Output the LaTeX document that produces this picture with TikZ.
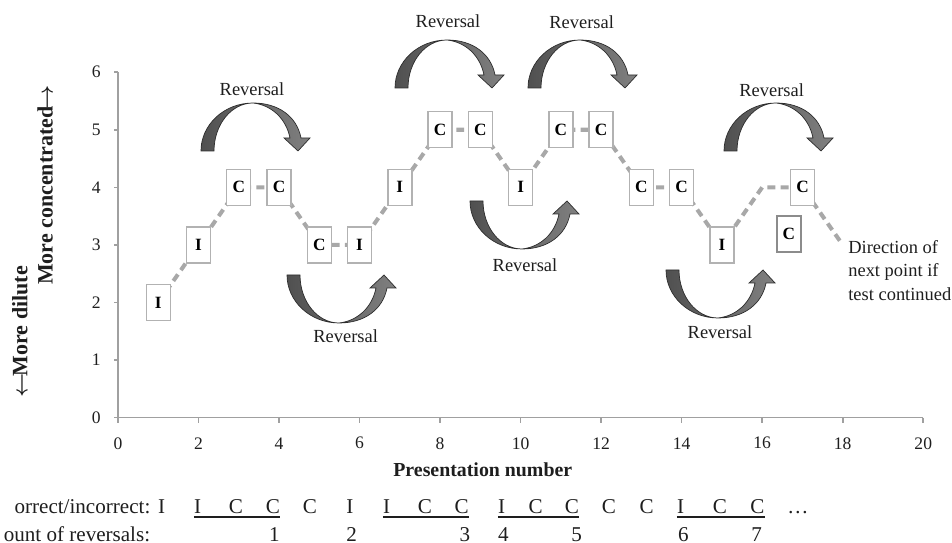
\documentclass[tikz,border=0pt]{standalone}
\usepackage{fontspec}
\setmainfont{Liberation Serif}
\usetikzlibrary{positioning,calc}
\definecolor{axisc}{RGB}{160,160,160}
\definecolor{linec}{RGB}{168,168,168}
\definecolor{boxc}{RGB}{178,178,178}
\definecolor{boxc2}{RGB}{140,140,140}
\definecolor{arrdark}{RGB}{80,80,80}
\definecolor{arrlight}{RGB}{128,128,128}
\definecolor{arredge}{RGB}{45,45,45}
\definecolor{txt}{RGB}{30,30,30}
\tikzset{
  pt/.style={draw=boxc,fill=white,line width=0.8pt,minimum width=0.48cm,minimum height=0.72cm,inner sep=0pt,font=\fontsize{9.8}{11}\selectfont\bfseries},
  trail/.style={linec,line width=2.3pt,dash pattern=on 4.5pt off 3pt},
  axl/.style={axisc,line width=0.9pt},
  tick/.style={font=\fontsize{10}{12}\selectfont,txt,inner sep=0pt},
  axlab/.style={font=\fontsize{11.3}{13}\selectfont\bfseries,txt},
  ylab/.style={font=\fontsize{12.5}{14}\selectfont\bfseries,txt,rotate=90,inner sep=0pt},
  rev/.style={font=\fontsize{10.5}{12}\selectfont,txt,inner sep=0pt},
  note/.style={font=\fontsize{10.5}{13.4}\selectfont,txt,align=left,inner sep=0pt},
  seq/.style={font=\fontsize{12}{14}\selectfont,txt,inner sep=0pt},
  turn/.style={draw=arredge,line width=0.4pt,left color=arrdark,right color=arrlight},
  revup/.pic={
    \path[turn] (-52,48) .. controls (-52,21.5) and (-28.7,0) .. (0,0)
      .. controls (26,0) and (44,14) .. (48,35) -- (57,35) -- (45,48) -- (31,35) -- (37,35)
      .. controls (33,15) and (18,2) .. (0,0)
      .. controls (-21.5,0) and (-39,21.5) .. (-39,48) -- cycle;
  },
}
\begin{document}
\begin{tikzpicture}[x=0.02cm,y=0.02cm]
  \useasboundingbox (0,0) rectangle (952,543);
  \begin{scope}[shift={(118,125.3)},x=0.8054cm,y=1.152cm]
    % axes
    \draw[axl] (0,6) -- (0,0) -- (20,0);
    \foreach \v in {0,...,6} {
      \draw[axl] (0,\v) -- ++(-0.09cm,0);
      \node[tick,anchor=east] (yt\v) at (-0.42,\v) {\v};
    }
    \foreach \x in {0,2,...,20} {
      \draw[axl] (\x,0) -- ++(0,-0.1cm);
      \node[tick] (xt\x) at (\x,-0.444) {\x};
    }
    \node[axlab] (xlab) at (9.06,-0.908) {Presentation number};
    % staircase of presentations
    \foreach \i/\v in {1/2,2/3,3/4,4/4,5/3,6/3,7/4,8/5,9/5,10/4,11/5,12/5,13/4,14/4,15/3,16/4,17/4,18/3}
      \coordinate (q\i) at (\i,\v);
    \draw[trail] (q1) \foreach \i in {2,...,18} {-- (q\i)};
    \foreach \i/\s in {1/I,2/I,3/C,4/C,5/C,6/I,7/I,8/C,9/C,10/I,11/C,12/C,13/C,14/C,15/I,17/C}
      \node[pt] (p\i) at (q\i) {\s};
    \node[pt,draw=boxc2,line width=1.1pt] (p16) at (16.66,3.19) {C};
    \node[note,anchor=north west,xshift=3pt,yshift=2.8pt] (next) at (q18) {Direction of\\next point if\\test continued};
  \end{scope}
  % y axis title
  \node[ylab] (ydil) at (20,211) {{\boldmath$\leftarrow$}\kern-1.5ptMore dilute};
  \node[ylab] (ycon) at (45,358) {More concentrated\kern-1.5pt{\boldmath$\rightarrow$}};
  % reversal arrows
  \pic[yscale=-1] at (253,440) {revup};
  \pic at (339,220) {revup};
  \pic[yscale=-1] at (447,503) {revup};
  \pic[yscale=-1] at (580,503) {revup};
  \pic at (522,294) {revup};
  \pic at (718,225) {revup};
  \pic[yscale=-1] at (776,440) {revup};
  \node[rev] (lab1) at (252,454) {Reversal};
  \node[rev] (lab2) at (345.7,206.5) {Reversal};
  \node[rev] (lab3) at (448,521.3) {Reversal};
  \node[rev] (lab4) at (581.7,520.3) {Reversal};
  \node[rev] (lab5) at (525,278) {Reversal};
  \node[rev] (lab6) at (720,211.3) {Reversal};
  \node[rev] (lab7) at (771.7,453) {Reversal};
  % sequence rows
  \node[seq,anchor=base east] (rowa) at (150.7,29.3) {orrect/incorrect:};
  \node[seq,anchor=base east] (rowb) at (150.5,1.9) {ount of reversals:};
  \foreach \px/\s [count=\k] in {161.7/I,197.7/I,236/C,273/C,310/C,350/I,386.7/I,425/C,461.7/C,501.7/I,535.7/C,572/C,609/C,646.7/C,680.7/I,720/C,757.3/C}
    \node[seq,anchor=base] (s\k) at (\px,29.3) {\s};
  \node[seq,anchor=base] (dots) at (798,29.3) {…};
  \foreach \px/\s [count=\k] in {274.3/1,351.7/2,465/3,503.3/4,576.7/5,683.3/6,756.7/7}
    \node[seq,anchor=base] (r\k) at (\px,1.9) {\s};
  \foreach \a/\b in {2/4,7/9,10/12,15/17}
    \draw[txt,line width=1.1pt] ($(s\a.base west)+(0,-3)$) -- ($(s\b.base east)+(0,-3)$);
\end{tikzpicture}
\end{document}
